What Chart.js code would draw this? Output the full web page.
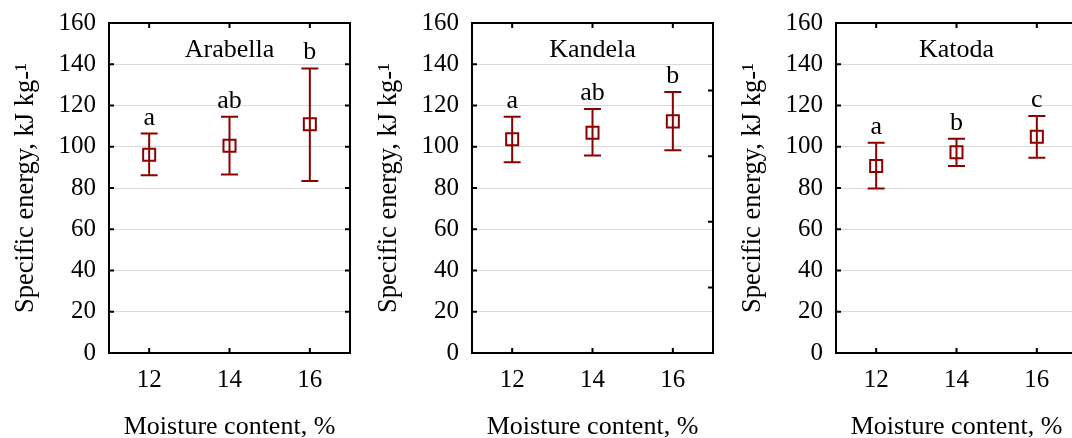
<!DOCTYPE html>
<html>
<head>
<meta charset="utf-8">
<script src="https://cdn.jsdelivr.net/npm/chart.js@4.4.0/dist/chart.umd.min.js"></script>
<style>
  html, body { margin: 0; padding: 0; background: #fff; overflow: hidden; }
  #wrap { position: relative; width: 1072px; height: 438px; overflow: hidden; }
  .panel { position: absolute; top: 0; width: 363px; height: 450px; }
</style>
</head>
<body>
<div id="wrap">
  <div class="panel" style="left:0px"><canvas id="c1" width="363" height="450"></canvas></div>
  <div class="panel" style="left:363px"><canvas id="c2" width="363" height="450"></canvas></div>
  <div class="panel" style="left:727px"><canvas id="c3" width="363" height="450"></canvas></div>
</div>
<script>
// x categories (moisture content, %)
const moisture = [12, 14, 16];
const xTicks = [12, 14, 16];

// Arabella
const arabellaMean = [96.1, 100.5, 110.9];
const arabellaLow = [86.2, 86.5, 83.4];
const arabellaHigh = [106.4, 114.6, 138.0];
const arabellaLetters = ['a', 'ab', 'b'];

// Kandela
const kandelaMean = [103.6, 106.8, 112.3];
const kandelaLow = [92.5, 95.7, 98.3];
const kandelaHigh = [114.6, 118.3, 126.5];
const kandelaLetters = ['a', 'ab', 'b'];

// Katoda
const katodaMean = [90.7, 97.3, 104.9];
const katodaLow = [79.7, 90.7, 94.7];
const katodaHigh = [102.0, 103.9, 114.9];
const katodaLetters = ['a', 'b', 'c'];

const RED = '#8b0000';
const FONT = "'Liberation Serif', 'Times New Roman', serif";

Chart.defaults.font.family = FONT;
Chart.defaults.font.size = 25;
Chart.defaults.color = '#000';

// error bars, letters, frame and panel name
const panelPlugin = {
  id: 'panel',
  beforeDatasetsDraw(chart, args, opts) {
    const ctx = chart.ctx;
    const xs = chart.scales.x, ys = chart.scales.y;
    ctx.save();
    ctx.strokeStyle = RED;
    ctx.lineWidth = 2;
    moisture.forEach((m, i) => {
      const x = xs.getPixelForValue(m);
      const yl = ys.getPixelForValue(opts.low[i]);
      const yh = ys.getPixelForValue(opts.high[i]);
      ctx.beginPath();
      ctx.moveTo(x, yl); ctx.lineTo(x, yh);
      ctx.moveTo(x - 8.5, yl); ctx.lineTo(x + 8.5, yl);
      ctx.moveTo(x - 8.5, yh); ctx.lineTo(x + 8.5, yh);
      ctx.stroke();
    });
    ctx.restore();
  },
  afterDraw(chart, args, opts) {
    const ctx = chart.ctx;
    const {left, right, top, bottom} = chart.chartArea;
    const xs = chart.scales.x, ys = chart.scales.y;
    ctx.save();
    ctx.strokeStyle = '#000';
    ctx.lineWidth = 2;
    ctx.beginPath();
    ctx.moveTo(left, top); ctx.lineTo(right, top); ctx.lineTo(right, bottom);
    ctx.stroke();

    // inward tick marks
    ctx.beginPath();
    xs.ticks.forEach(t => {
      const x = xs.getPixelForValue(t.value);
      ctx.moveTo(x, bottom); ctx.lineTo(x, bottom - 5);
      ctx.moveTo(x, top); ctx.lineTo(x, top + 5);
    });
    ys.ticks.forEach(t => {
      const y = ys.getPixelForValue(t.value);
      ctx.moveTo(left, y); ctx.lineTo(left + 5, y);
    });
    const rs = chart.scales.y2 || ys;
    rs.ticks.forEach(t => {
      const y = rs.getPixelForValue(t.value);
      ctx.moveTo(right, y); ctx.lineTo(right - 5, y);
    });
    ctx.stroke();

    ctx.fillStyle = '#000';
    ctx.font = '26px ' + FONT;
    ctx.textAlign = 'center';
    ctx.textBaseline = 'alphabetic';
    ctx.fillText(opts.name, (left + right) / 2, top + 34);
    moisture.forEach((m, i) => {
      ctx.fillText(opts.letters[i], xs.getPixelForValue(m), ys.getPixelForValue(opts.high[i]) - 9);
    });
    ctx.restore();
  }
};

function makePanel(id, name, mean, low, high, letters, rightMax) {
  const scales = {
    x: {
      type: 'linear', min: 11, max: 17,
      afterBuildTicks: s => { s.ticks = xTicks.map(v => ({value: v})); },
      afterFit: s => { s.height = 97; },
      grid: { display: false, drawTicks: false },
      border: { display: true, color: '#000', width: 2 },
      ticks: { padding: 12 },
      title: { display: true, text: 'Moisture content, %', font: { size: 26 }, padding: { top: 0, bottom: 7 } }
    },
    y: {
      min: 0, max: 160,
      afterFit: s => { s.width = 109; s.paddingTop = 15; s.paddingBottom = 15; },
      grid: { color: '#dadada', lineWidth: 1, drawTicks: false },
      border: { display: true, color: '#000', width: 2 },
      ticks: { stepSize: 20, padding: 13 },
      title: { display: true, text: 'Specific energy, kJ kg-\u00b9', font: { size: 26.5 }, padding: { top: 10, bottom: 0 } }
    }
  };
  if (rightMax) {
    scales.y2 = { display: false, position: 'right', min: 0, max: rightMax, ticks: { stepSize: 1 } };
  }
  return new Chart(document.getElementById(id), {
    type: 'scatter',
    data: {
      datasets: [{
        data: moisture.map((m, i) => ({x: m, y: mean[i]})),
        pointStyle: 'rect',
        pointRadius: 8.5,
        pointBorderWidth: 2,
        borderColor: RED,
        backgroundColor: 'rgba(0,0,0,0)'
      }]
    },
    options: {
      responsive: false,
      animation: false,
      layout: { autoPadding: false, padding: { top: 23, right: 13, bottom: 0, left: 0 } },
      scales,
      plugins: {
        legend: { display: false },
        tooltip: { enabled: false },
        panel: { name, low, high, letters }
      }
    },
    plugins: [panelPlugin]
  });
}

makePanel('c1', 'Arabella', arabellaMean, arabellaLow, arabellaHigh, arabellaLetters);
makePanel('c2', 'Kandela', kandelaMean, kandelaLow, kandelaHigh, kandelaLetters, 5.03);
makePanel('c3', 'Katoda', katodaMean, katodaLow, katodaHigh, katodaLetters);
</script>
</body>
</html>
